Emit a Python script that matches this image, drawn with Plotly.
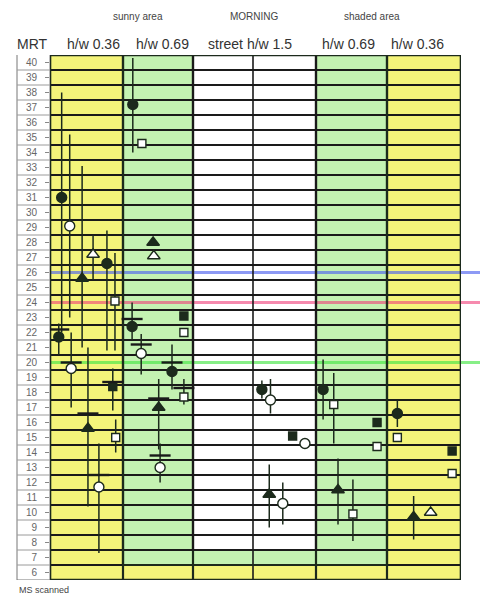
import plotly.graph_objects as go

# ---- data -------------------------------------------------------------
columns = ["sunny h/w 0.36", "sunny h/w 0.69", "street h/w 1.5",
           "shaded h/w 0.69", "shaded h/w 0.36"]
y_ticks = list(range(6, 41))
comfort_lines = {"upper": 26, "mid": 24, "lower": 20}

col = [0, 0, 0, 0, 0, 0, 0, 0, 0, 0, 0, 0,
       1, 1, 1, 1, 1, 1, 1, 1, 1, 1, 1, 1,
       2, 2, 2, 2, 2, 2,
       3, 3, 3, 3, 3, 3,
       4, 4, 4, 4, 4, 4]
slot = [0.16, 0.27, 0.44, 0.59, 0.78, 0.89, 0.12, 0.29, 0.52, 0.67, 0.86, 0.90,
        0.14, 0.27, 0.43, 0.44, 0.13, 0.26, 0.70, 0.87, 0.87, 0.87, 0.51, 0.53,
        0.56, 0.63, 0.81, 0.91, 0.62, 0.73,
        0.10, 0.25, 0.86, 0.86, 0.31, 0.52,
        0.14, 0.14, 0.88, 0.88, 0.36, 0.59]
group = ["c", "c", "t", "t", "c", "s", "c", "c", "t", "c", "s", "s",
         "c", "s", "t", "t", "c", "c", "c", "s", "s", "s", "t", "c",
         "c", "c", "s", "c", "t", "c",
         "c", "s", "s", "s", "t", "s",
         "c", "s", "s", "s", "t", "t"]
kind = ["f", "o", "f", "o", "f", "o", "f", "o", "f", "o", "f", "o",
        "f", "o", "f", "o", "f", "o", "f", "f", "o", "o", "f", "o",
        "f", "o", "f", "o", "f", "o",
        "f", "o", "f", "o", "f", "o",
        "f", "o", "f", "o", "f", "o"]
mrt = [31.0, 29.1, 25.6, 27.2, 26.6, 24.1, 21.7, 19.6, 15.6, 11.7, 18.4, 15.0,
       37.2, 34.6, 28.0, 27.1, 22.4, 20.6, 19.4, 23.1, 22.0, 17.7, 17.0, 13.0,
       18.2, 17.5, 15.1, 14.6, 11.2, 10.6,
       18.2, 17.2, 16.0, 14.4, 11.5, 9.9,
       16.6, 15.0, 14.1, 12.6, 9.7, 10.0]
mrt_lo = [22.0, 23.0, 21.0, 25.5, 20.8, 20.8, 20.5, 17.0, 10.4, 7.3, 16.8, 14.0,
          34.0, 34.6, 28.0, 27.1, 21.5, 19.2, 18.2, 23.1, 22.0, 17.2, 14.2, 12.0,
          17.6, 16.6, 15.1, 14.6, 9.0, 9.2,
          16.2, 14.6, 16.0, 14.4, 9.2, 8.1,
          15.7, 15.0, 14.1, 12.6, 8.2, 10.0]
mrt_hi = [38.0, 35.2, 33.1, 28.5, 28.8, 27.3, 22.6, 22.0, 21.0, 14.6, 19.6, 16.2,
          40.3, 34.6, 28.0, 27.1, 24.0, 21.9, 21.2, 23.1, 22.0, 18.9, 18.9, 14.6,
          18.8, 18.9, 15.1, 14.6, 13.2, 12.0,
          20.2, 19.3, 16.0, 14.4, 13.6, 12.2,
          17.5, 15.0, 14.1, 12.6, 11.1, 10.0]
mrt_mean = [None, None, None, None, None, None, 22.2, 20.0, 16.6, 12.5, 18.7, None,
            None, None, None, None, 22.9, 21.2, 20.0, None, None, 18.3, 17.6, 13.8,
            None, None, None, None, None, None,
            None, None, None, None, None, None,
            None, None, None, None, None, None]

# ---- layout / style ---------------------------------------------------
EDGES = [0, 73, 143, 266, 337, 411]
STREET_MID = 203
Y0, Y1 = 5.5, 40.5
YELLOW, GREEN = "#F4F47A", "#C4F2B2"
DARK = "#1c2a1c"
INK = "#1a1a1a"
FONT = "Liberation Sans, Arial, sans-serif"
SYMBOL = {"c": "circle", "t": "triangle-up", "s": "square"}
SIZE = {"c": 10, "t": 11, "s": 8}

xs = [EDGES[c] + s * (EDGES[c + 1] - EDGES[c]) for c, s in zip(col, slot)]

fig = go.Figure()

shapes = []
# label column box (outside the plotting area)
lab_x0 = -33 / 411
shapes.append(dict(type="rect", xref="paper", yref="y", x0=lab_x0, x1=0,
                   y0=Y0, y1=Y1 + 0.1, fillcolor="white",
                   line=dict(color="#777", width=1), layer="below"))
for k in range(6, 40):
    shapes.append(dict(type="line", xref="paper", yref="y", x0=lab_x0, x1=0,
                       y0=k + 0.5, y1=k + 0.5, line=dict(color="#9a9a9a", width=1),
                       layer="below"))

# nested coloured zones
shapes.append(dict(type="rect", xref="x", yref="y", x0=EDGES[0], x1=EDGES[5],
                   y0=Y0, y1=Y1, fillcolor=YELLOW, line=dict(width=0), layer="below"))
shapes.append(dict(type="rect", xref="x", yref="y", x0=EDGES[1], x1=EDGES[4],
                   y0=6.5, y1=Y1, fillcolor=GREEN, line=dict(width=0), layer="below"))
shapes.append(dict(type="rect", xref="x", yref="y", x0=EDGES[2], x1=EDGES[3],
                   y0=7.5, y1=Y1, fillcolor="white", line=dict(width=0), layer="below"))
# grid lines at half steps
for k in range(6, 40):
    yv = k + 0.5
    shapes.append(dict(type="line", xref="x", yref="y", x0=EDGES[0], x1=EDGES[5],
                       y0=yv, y1=yv, line=dict(color=INK, width=1.8), layer="below"))
# comfort reference lines: inside the zones and running on past the right edge
for key, clr in (("upper", "rgba(80,100,240,0.65)"),
                 ("mid", "rgba(240,60,120,0.6)"),
                 ("lower", "rgba(70,230,70,0.65)")):
    yv = comfort_lines[key]
    shapes.append(dict(type="line", xref="x", yref="y", x0=EDGES[0], x1=EDGES[5],
                       y0=yv, y1=yv, line=dict(color=clr, width=3), layer="below"))
    shapes.append(dict(type="line", xref="paper", yref="y", x0=1, x1=430 / 411,
                       y0=yv, y1=yv, line=dict(color=clr, width=3), layer="below"))
# column boundaries
for xv in EDGES[1:5]:
    shapes.append(dict(type="line", xref="x", yref="y", x0=xv, x1=xv, y0=Y0, y1=Y1,
                       line=dict(color=DARK, width=2.2), layer="below"))
shapes.append(dict(type="line", xref="x", yref="y", x0=STREET_MID, x1=STREET_MID,
                   y0=Y0, y1=Y1, line=dict(color=INK, width=1.6), layer="below"))
# zone outlines
shapes.append(dict(type="rect", xref="x", yref="y", x0=EDGES[1], x1=EDGES[4],
                   y0=6.5, y1=Y1, line=dict(color=DARK, width=2.2), layer="below"))
shapes.append(dict(type="rect", xref="x", yref="y", x0=EDGES[2], x1=EDGES[3],
                   y0=7.5, y1=Y1, line=dict(color=INK, width=2.2), layer="below"))
shapes.append(dict(type="rect", xref="x", yref="y", x0=EDGES[0], x1=EDGES[5],
                   y0=Y0, y1=Y1, line=dict(color=DARK, width=2.6), layer="below"))

# markers with range bars, one trace per marker style
for g in ("c", "t", "s"):
    for kd in ("f", "o"):
        idx = [i for i in range(len(mrt)) if group[i] == g and kind[i] == kd]
        if not idx:
            continue
        fig.add_trace(go.Scatter(
            x=[xs[i] for i in idx],
            y=[mrt[i] for i in idx],
            mode="markers",
            marker=dict(symbol=SYMBOL[g], size=SIZE[g],
                        color=DARK if kd == "f" else "white",
                        line=dict(color=DARK, width=1.4)),
            error_y=dict(type="data", symmetric=False,
                         array=[mrt_hi[i] - mrt[i] for i in idx],
                         arrayminus=[mrt[i] - mrt_lo[i] for i in idx],
                         width=0, thickness=1.5, color=DARK),
            showlegend=False, hoverinfo="y",
        ))

# mean markers (short horizontal bars)
midx = [i for i in range(len(mrt)) if mrt_mean[i] is not None]
fig.add_trace(go.Scatter(
    x=[xs[i] for i in midx], y=[mrt_mean[i] for i in midx],
    mode="markers",
    marker=dict(symbol="line-ew", size=15, line=dict(color=INK, width=2.4)),
    showlegend=False, hoverinfo="y",
))

annotations = []
# header rows
for txt, xpx in (("sunny area", 138), ("MORNING", 254), ("shaded area", 372)):
    annotations.append(dict(text=txt, xref="paper", yref="paper",
                            x=(xpx - 50) / 411, y=(580 - 16) / 525,
                            xanchor="center", yanchor="middle",
                            showarrow=False, font=dict(size=10, color="#444", family=FONT)))
for txt, xpx in (("MRT", 32), ("h/w 0.36", 93), ("h/w 0.69", 162),
                 ("street h/w 1.5", 250), ("h/w 0.69", 348), ("h/w 0.36", 417)):
    annotations.append(dict(text=txt, xref="paper", yref="paper",
                            x=(xpx - 50) / 411, y=(580 - 44) / 525,
                            xanchor="center", yanchor="middle",
                            showarrow=False, font=dict(size=14, color="#333", family=FONT)))
annotations.append(dict(text="MS scanned", xref="paper", yref="paper",
                        x=lab_x0, y=(580 - 590) / 525, xanchor="left", yanchor="middle",
                        showarrow=False, font=dict(size=9, color="#444", family=FONT)))

fig.update_layout(
    width=480, height=595,
    margin=dict(l=50, r=19, t=55, b=15),
    paper_bgcolor="white", plot_bgcolor="white",
    shapes=shapes, annotations=annotations,
    xaxis=dict(range=[EDGES[0], EDGES[5]], visible=False, fixedrange=True),
    yaxis=dict(range=[Y0, Y1], tickvals=y_ticks, ticktext=[str(v) for v in y_ticks],
               ticks="outside", ticklen=4, tickcolor="#888", tickwidth=1,
               ticklabelstandoff=6,
               tickfont=dict(size=10, color="#666", family=FONT),
               showgrid=False, zeroline=False, showline=False, fixedrange=True),
    font=dict(family=FONT),
)

fig.write_html("out.html")
